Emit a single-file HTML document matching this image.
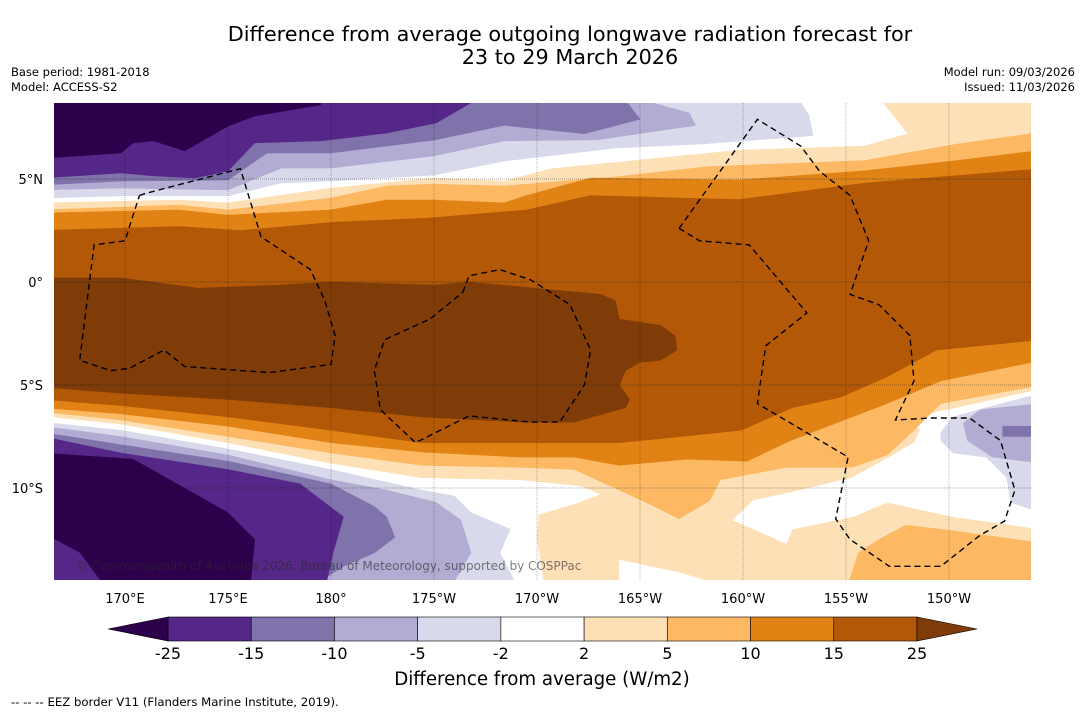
<!DOCTYPE html>
<html><head><meta charset="utf-8"><style>
body{margin:0;background:#fff;width:1085px;height:713px;overflow:hidden;font-family:"Liberation Sans","DejaVu Sans",sans-serif}
svg text{font-family:"DejaVu Sans","Liberation Sans",sans-serif}
</style></head><body>
<svg id="chart" width="1085" height="713" xmlns="http://www.w3.org/2000/svg">
<text x="570" y="41" text-anchor="middle" font-size="20.8">Difference from average outgoing longwave radiation forecast for</text>
<text x="570" y="64" text-anchor="middle" font-size="20.8">23 to 29 March 2026</text>
<text x="11" y="76" font-size="11.5">Base period: 1981-2018</text>
<text x="11" y="91" font-size="11.5">Model: ACCESS-S2</text>
<text x="1075" y="76" font-size="11.5" text-anchor="end">Model run: 09/03/2026</text>
<text x="1075" y="91" font-size="11.5" text-anchor="end">Issued: 11/03/2026</text>
<defs><clipPath id="plotclip"><rect x="54" y="103" width="977" height="477"/></clipPath></defs>
<g id="plot" clip-path="url(#plotclip)"></g>
<g id="axes"></g>
<g id="cbar"></g>
<text x="542" y="685" text-anchor="middle" font-size="18.2">Difference from average (W/m2)</text>
<text x="11" y="706" font-size="11.7">--  --  -- EEZ border V11 (Flanders Marine Institute, 2019).</text>
</svg>
<script>
// ---- data (lon in degrees east, lat in degrees) ----
const levels = [-25,-15,-10,-5,-2,2,5,10,15,25];
const levelColors = ["#2d004b","#542788","#8073ac","#b2abd2","#d8daeb","#ffffff","#fee0b6","#fdb863","#e08214","#b35806","#7f3b08"];
const lonTicks = [170,175,180,185,190,195,200,205,210];
const lonTickLabels = ["170°E","175°E","180°","175°W","170°W","165°W","160°W","155°W","150°W"];
const latTicks = [5,0,-5,-10];
const latTickLabels = ["5°N","0°","5°S","10°S"];

const north25 = [[166,9.5],[166,6.0],[169.8,6.26],[170.4,6.75],[171.4,6.85],[172.9,6.36],[175.0,7.57],[176.3,8.06],[179.5,8.6],[179.5,9.5]];
const north15 = [[166,9.5],[166,5.05],[169.8,5.29],[171.4,5.15],[173.4,5.05],[175.0,5.39],[176.3,6.75],[179.5,6.85],[182.7,7.23],[185.1,7.72],[186.8,8.7],[186.8,9.5]];
const north10 = [[166,9.5],[166,4.71],[169.8,4.9],[175.0,4.95],[176.9,6.26],[180.0,6.26],[182.7,6.6],[185.0,6.89],[188.4,7.6],[192.3,7.2],[195.0,7.9],[194.4,8.7],[194.4,9.5]];
const north5 = [[166,9.5],[166,4.47],[169.8,4.56],[175.0,4.47],[177.6,5.53],[180.0,5.53],[185.0,6.12],[188.4,6.85],[192.9,6.9],[197.7,7.6],[197.4,8.2],[195.6,8.7],[195.6,9.5]];
const north2 = [[166,9.5],[166,4.08],[169.8,4.18],[175.0,4.18],[177.6,4.81],[180.0,4.9],[185.0,5.19],[188.4,5.87],[193.8,6.5],[198.0,6.7],[203.4,7.1],[203.2,8.1],[202.8,8.7],[202.8,9.5]];

const pos2 = [[166,3.84],[172.6,3.98],[175.0,3.84],[180.0,4.56],[185.0,5.05],[188.4,4.9],[190.7,5.5],[196.8,6.1],[199.8,6.4],[205.9,6.6],[208.0,7.2],[206.8,8.7],[206.8,9.5],[214.5,9.5],[214.5,-15],[190.4,-15],[190.0,-12.4],[190.1,-11.3],[191.8,-10.8],[193.1,-10.3],[192.1,-9.9],[189.2,-9.6],[184.4,-9.5],[180.0,-8.8],[175.0,-7.8],[169.8,-6.9],[166,-6.5]];
const whiteEast = [[199.5,-11.55],[200.5,-10.6],[202.4,-10.2],[205.3,-9.5],[207.1,-8.5],[208.3,-7.8],[208.6,-7.2],[208.1,-6.7],[208.6,-6.5],[214.5,-5.2],[214.5,-12.0],[210.2,-11.4],[207.0,-10.7],[205.3,-11.4],[202.4,-12.0],[202.1,-12.7]];
const whiteSouth = [[194.0,-13.5],[196.9,-14.1],[198.2,-14.5],[198.2,-15],[194.0,-15]];
const pos5 = [[166,3.5],[172.6,3.74],[175.0,3.5],[180.0,4.08],[182.7,4.66],[185.0,4.75],[188.4,4.66],[193.8,5.1],[198.3,5.6],[205.9,5.9],[210.4,6.7],[214.0,7.2],[214.5,7.3],[214.5,-5.0],[209.6,-5.9],[208.3,-7.2],[207.0,-8.4],[205.3,-9.0],[202.1,-9.0],[198.9,-9.6],[198.4,-10.6],[196.9,-11.5],[195.5,-10.8],[194.0,-10.1],[191.8,-9.1],[189.2,-9.0],[184.4,-8.9],[180.0,-8.3],[175.0,-7.5],[169.8,-6.7],[166,-6.3]];
const pos5East = [[205.0,-15],[205.6,-13.15],[206.6,-12.5],[207.9,-11.8],[209.9,-12.04],[214.0,-12.6],[214.5,-12.6],[214.5,-15]];
const pos10 = [[166,3.35],[172.6,3.5],[175.0,3.25],[180.0,3.5],[182.7,3.98],[185.0,3.98],[188.4,3.84],[189.5,4.2],[192.6,5.05],[199.8,4.95],[205.9,5.4],[210.4,5.9],[214.5,6.4],[214.5,-3.8],[209.6,-4.8],[207.0,-5.9],[205.3,-6.55],[202.3,-7.7],[200.2,-8.7],[197.3,-8.6],[194.0,-8.9],[191.8,-8.5],[189.2,-8.5],[184.4,-8.25],[180.0,-7.8],[175.0,-7.0],[169.8,-6.4],[166,-6.1]];
const pos15 = [[166,2.5],[172.6,2.7],[175.6,2.5],[180.1,2.9],[184.7,3.1],[189.5,3.5],[192.6,4.2],[199.8,4.0],[205.9,4.8],[214.5,5.5],[214.5,-2.8],[209.4,-3.3],[207.0,-4.6],[204.7,-5.6],[202.4,-6.1],[199.9,-7.2],[196.0,-7.6],[194.0,-7.8],[191.8,-7.8],[189.2,-7.8],[184.4,-7.8],[180.0,-7.2],[175.0,-6.55],[169.8,-6.0],[166,-5.7]];
const pos25 = [[166,0.2],[169.8,0.2],[173.6,-0.3],[177.5,-0.15],[180.0,0],[185.0,-0.15],[186.7,0],[193.1,-0.6],[193.8,-0.9],[194.0,-1.8],[196.0,-2.1],[196.7,-2.6],[196.8,-3.3],[196.0,-3.8],[195.0,-3.9],[194.3,-4.3],[194.0,-5.0],[194.5,-5.7],[194.3,-6.1],[191.8,-6.8],[189.2,-6.8],[184.4,-6.55],[180.0,-6.1],[175.0,-5.7],[169.8,-5.4],[166,-5.1]];

const east2 = [[209.6,-7.3],[210.2,-6.55],[211.8,-6.1],[214.5,-5.4],[214.5,-11.2],[213.0,-10.7],[212.8,-9.5],[211.8,-8.5],[210.2,-8.3],[209.6,-7.7]];
const east5 = [[210.7,-6.85],[211.5,-6.2],[214.5,-5.9],[214.5,-8.8],[212.1,-8.5],[210.9,-7.7]];
const east10 = [[212.6,-7.0],[214.5,-7.0],[214.5,-7.5],[212.6,-7.5]];

const south2 = [[166,-6.8],[169.8,-7.2],[175.0,-8.1],[180.0,-9.1],[184.4,-10.1],[186.0,-10.4],[186.8,-11.2],[188.7,-12.0],[188.2,-13.15],[188.9,-14.5],[188.9,-15],[166,-15]];
const south5 = [[166,-7.0],[169.8,-7.5],[175.0,-8.4],[180.0,-9.6],[182.7,-10.1],[185.1,-10.7],[186.3,-11.55],[186.8,-13.15],[186.0,-14.5],[186.0,-15],[166,-15]];
const south10 = [[166,-7.3],[169.8,-7.9],[175.0,-8.7],[180.0,-9.8],[182.1,-10.9],[182.7,-11.4],[183.1,-12.4],[182.1,-13.15],[180.6,-13.8],[179.5,-14.5],[179.5,-15],[166,-15]];
const south15 = [[166,-7.5],[169.8,-8.3],[175.0,-9.1],[178.5,-9.8],[180.6,-11.4],[180.1,-13.15],[179.8,-14.5],[179.8,-15],[166,-15]];
const south25 = [[166,-8.3],[170.4,-8.6],[175.0,-11.2],[176.3,-12.5],[176.1,-14.5],[176.1,-15],[166,-15]];
const south15Corner = [[166,-12.5],[166.6,-12.5],[167.8,-13.15],[168.8,-14.5],[168.8,-15],[166,-15]];

const eezGilbert = [[170.7,4.2],[171.0,4.3],[175.6,5.5],[176.6,2.2],[179.0,0.6],[179.7,-0.9],[180.2,-2.6],[180.0,-4.0],[177.0,-4.4],[172.9,-4.1],[171.9,-3.3],[170.2,-4.2],[169.3,-4.3],[167.8,-3.8],[168.5,1.8],[170.0,2.0],[170.7,4.2]];
const eezPhoenix = [[186.4,-0.5],[186.7,0.3],[188.2,0.6],[189.7,0.1],[191.6,-1.1],[192.6,-3.3],[192.3,-5.0],[191.1,-6.8],[189.7,-6.8],[186.7,-6.5],[184.1,-7.8],[182.4,-6.2],[182.1,-4.3],[182.6,-2.8],[184.8,-1.8],[186.4,-0.5]];
const eezLine = [[196.9,2.6],[200.7,7.9],[202.8,6.6],[203.7,5.4],[205.2,4.2],[206.1,2.0],[205.2,-0.6],[206.6,-1.1],[208.1,-2.6],[208.3,-4.8],[207.4,-6.7],[209.1,-6.6],[211.0,-6.6],[212.5,-7.7],[213.2,-10.1],[212.7,-11.6],[211.5,-12.3],[209.6,-13.8],[207.1,-13.8],[205.2,-12.5],[204.5,-11.5],[205.1,-8.5],[200.7,-5.9],[201.1,-3.1],[203.1,-1.5],[200.3,1.8],[197.9,2.0],[196.9,2.6]];

// ---- axes ----
const NS = "http://www.w3.org/2000/svg";
function X(lon){return 125+(lon-170)*20.6;}
function Y(lat){return 282-lat*20.6;}
function pts(arr){return arr.map(p=>X(p[0]).toFixed(1)+","+Y(p[1]).toFixed(1)).join(" ");}
const plot=document.getElementById('plot');
function band(arr,color,name){
  const el=document.createElementNS(NS,'polygon');
  el.setAttribute('points',pts(arr));
  el.setAttribute('fill',color);
  el.setAttribute('stroke',color);
  el.setAttribute('stroke-width','0.5');
  
  
  plot.appendChild(el);
}
const bg=document.createElementNS(NS,'rect');
bg.setAttribute('x',54);bg.setAttribute('y',103);bg.setAttribute('width',977);bg.setAttribute('height',477);bg.setAttribute('fill','#fff');


plot.appendChild(bg);
const C=levelColors;
band(north2,C[4],'band-north-minus2');band(north5,C[3],'band-north-minus5');band(north10,C[2],'band-north-minus10');band(north15,C[1],'band-north-minus15');band(north25,C[0],'band-north-minus25');
band(pos2,C[6],'band-plus2');band(whiteEast,C[5],'band-neutral-east');band(whiteSouth,C[5],'band-neutral-south');
band(pos5,C[7],'band-plus5');band(pos5East,C[7],'band-plus5-east');band(pos10,C[8],'band-plus10');band(pos15,C[9],'band-plus15');band(pos25,C[10],'band-plus25');
band(east2,C[4],'band-east-minus2');band(east5,C[3],'band-east-minus5');band(east10,C[2],'band-east-minus10');
band(south2,C[4],'band-south-minus2');band(south5,C[3],'band-south-minus5');band(south10,C[2],'band-south-minus10');band(south15,C[1],'band-south-minus15');band(south25,C[0],'band-south-minus25');band(south15Corner,C[1],'band-south-minus15-corner');

// gridlines
lonTicks.forEach(l=>{const g=document.createElementNS(NS,'line');g.setAttribute('x1',X(l));g.setAttribute('x2',X(l));g.setAttribute('y1',103);g.setAttribute('y2',580);g.setAttribute('stroke','rgba(0,0,0,0.35)');g.setAttribute('stroke-width','0.8');g.setAttribute('stroke-dasharray','1,1');


plot.appendChild(g);});
latTicks.forEach(l=>{const g=document.createElementNS(NS,'line');g.setAttribute('x1',54);g.setAttribute('x2',1031);g.setAttribute('y1',Y(l));g.setAttribute('y2',Y(l));g.setAttribute('stroke','rgba(0,0,0,0.45)');g.setAttribute('stroke-width','0.8');g.setAttribute('stroke-dasharray','1,1');


plot.appendChild(g);});
// EEZ
[[eezGilbert,'eez-gilbert'],[eezPhoenix,'eez-phoenix'],[eezLine,'eez-line-islands']].forEach(e=>{
  const p=document.createElementNS(NS,'polyline');p.setAttribute('points',pts(e[0]));p.setAttribute('fill','none');p.setAttribute('stroke','#000');p.setAttribute('stroke-width','1.4');p.setAttribute('stroke-dasharray','6,4');
  
  
  plot.appendChild(p);
});
const cr=document.createElementNS(NS,'text');cr.setAttribute('x',76);cr.setAttribute('y',570);cr.setAttribute('font-size','12');cr.setAttribute('fill','rgba(40,40,40,0.6)');cr.textContent='© Commonwealth of Australia 2026, Bureau of Meteorology, supported by COSPPac';


plot.appendChild(cr);

const axes=document.getElementById('axes');
lonTicks.forEach((l,i)=>{const t=document.createElementNS(NS,'text');t.setAttribute('x',X(l));t.setAttribute('y',603);t.setAttribute('text-anchor','middle');t.setAttribute('font-size','13');t.textContent=lonTickLabels[i];


axes.appendChild(t);});
latTicks.forEach((l,i)=>{const t=document.createElementNS(NS,'text');t.setAttribute('x',43);t.setAttribute('y',Y(l)+5);t.setAttribute('text-anchor','end');t.setAttribute('font-size','13');t.textContent=latTickLabels[i];


axes.appendChild(t);});

// colorbar
const cb=document.getElementById('cbar');
const cbL=168,cbR=917,cbT=617,cbB=641,segW=(cbR-cbL)/(levels.length-1);
function cbx(i){return cbL+i*segW;}
for(let i=0;i<levels.length-1;i++){
  const r=document.createElementNS(NS,'rect');r.setAttribute('x',cbx(i));r.setAttribute('y',cbT);r.setAttribute('width',segW);r.setAttribute('height',cbB-cbT);r.setAttribute('fill',C[i+1]);r.setAttribute('stroke','#000');r.setAttribute('stroke-width','0.6');
  
  
  cb.appendChild(r);
}
const tl=document.createElementNS(NS,'polygon');tl.setAttribute('points',`${cbL},${cbT} 108,${(cbT+cbB)/2} ${cbL},${cbB}`);tl.setAttribute('fill',C[0]);tl.setAttribute('stroke','#000');tl.setAttribute('stroke-width','0.6');


cb.appendChild(tl);
const tr=document.createElementNS(NS,'polygon');tr.setAttribute('points',`${cbR},${cbT} 977,${(cbT+cbB)/2} ${cbR},${cbB}`);tr.setAttribute('fill',C[10]);tr.setAttribute('stroke','#000');tr.setAttribute('stroke-width','0.6');


cb.appendChild(tr);
levels.forEach((v,i)=>{const t=document.createElementNS(NS,'text');t.setAttribute('x',cbx(i));t.setAttribute('y',659);t.setAttribute('text-anchor','middle');t.setAttribute('font-size','16');t.textContent=String(v);


cb.appendChild(t);});
</script>
</body></html>
